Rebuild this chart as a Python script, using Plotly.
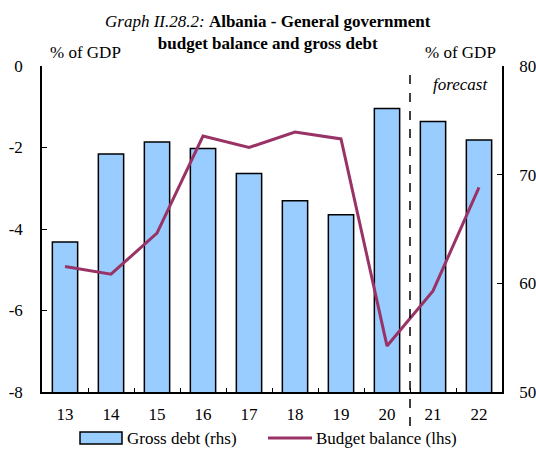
import plotly.graph_objects as go

years = ["13", "14", "15", "16", "17", "18", "19", "20", "21", "22"]
gross_debt = [63.8, 71.9, 73.0, 72.4, 70.1, 67.6, 66.3, 76.1, 74.9, 73.2]
budget_balance = [-4.92, -5.11, -4.10, -1.72, -2.0, -1.62, -1.79, -6.87, -5.52, -2.98]
left_ticks = [0, -2, -4, -6, -8]
right_ticks = [50, 60, 70, 80]

FONT = "Liberation Serif"
FS = 17
LINE_COLOR = "#993366"
BAR_COLOR = "#99CCFF"

# plot area in pixels
L, R, T, B = 42, 502, 66, 392
W, H = R - L, B - T


def px(x):
    return (x - L) / W


def py(y):
    return (B - y) / H


fig = go.Figure()
fig.add_trace(go.Bar(
    x=years, y=gross_debt, name="Gross debt (rhs)", yaxis="y",
    marker=dict(color=BAR_COLOR, line=dict(color="black", width=1.5)),
    width=0.55, showlegend=False,
))
fig.add_trace(go.Scatter(
    x=years, y=budget_balance, name="Budget balance (lhs)", yaxis="y2",
    mode="lines", line=dict(color=LINE_COLOR, width=3), showlegend=False,
))

fig.update_layout(
    width=536, height=453,
    margin=dict(l=L, r=536 - R, t=T, b=453 - B, autoexpand=False),
    paper_bgcolor="white", plot_bgcolor="white",
    font=dict(family=FONT, size=FS, color="black"),
    xaxis=dict(type="category", tickson="boundaries", ticks="inside", ticklen=4,
               tickcolor="black", showline=True, linecolor="black", linewidth=1.5,
               showgrid=False, range=[-0.5, 9.5], tickfont=dict(size=FS),
               ticklabelstandoff=6),
    yaxis=dict(side="right", range=[50, 80], tickvals=right_ticks,
               ticktext=[str(v) for v in right_ticks], ticks="inside",
               ticklen=5, tickcolor="black", showline=True, linecolor="black", linewidth=1.5,
               showgrid=False, zeroline=False, tickfont=dict(size=FS),
               ticklabelstandoff=12),
    yaxis2=dict(side="left", overlaying="y", range=[-8, 0], tickvals=left_ticks,
                ticktext=[str(v) for v in left_ticks],
                ticks="inside", ticklen=5, tickcolor="black", showline=True,
                linecolor="black", linewidth=1.5, showgrid=False, zeroline=False,
                tickfont=dict(size=FS), ticklabelstandoff=14),
)

# forecast separator
fig.add_shape(type="line", xref="x", yref="paper", x0=7.5, x1=7.5, y0=py(426), y1=py(75),
              line=dict(color="black", width=1.5, dash="dash"))

# title
fig.add_annotation(xref="paper", yref="paper", x=px(268), y=py(10),
                   text="<i>Graph II.28.2:</i> <b>Albania - General government</b><br><b>budget balance and gross debt</b>",
                   showarrow=False, font=dict(family=FONT, size=FS), align="center",
                   xanchor="center", yanchor="top")
fig.add_annotation(xref="paper", yref="paper", x=px(48), y=py(52),
                   text="% of GDP", showarrow=False, font=dict(family=FONT, size=FS),
                   xanchor="left", yanchor="middle")
fig.add_annotation(xref="paper", yref="paper", x=px(498), y=py(52),
                   text="% of GDP", showarrow=False, font=dict(family=FONT, size=FS),
                   xanchor="right", yanchor="middle")
fig.add_annotation(xref="paper", yref="paper", x=px(490), y=py(84),
                   text="<i>forecast</i>", showarrow=False, font=dict(family=FONT, size=FS),
                   xanchor="right", yanchor="middle")

# legend (drawn)
fig.add_shape(type="rect", xref="paper", yref="paper", x0=px(80), x1=px(122),
              y0=py(444), y1=py(432), fillcolor=BAR_COLOR, line=dict(color="black", width=1.5))
fig.add_annotation(xref="paper", yref="paper", x=px(125), y=py(438),
                   text="Gross debt (rhs)", showarrow=False, font=dict(family=FONT, size=FS),
                   xanchor="left", yanchor="middle")
fig.add_shape(type="line", xref="paper", yref="paper", x0=px(268), x1=px(312),
              y0=py(438), y1=py(438), line=dict(color=LINE_COLOR, width=3))
fig.add_annotation(xref="paper", yref="paper", x=px(314), y=py(438),
                   text="Budget balance (lhs)", showarrow=False, font=dict(family=FONT, size=FS),
                   xanchor="left", yanchor="middle")

fig.write_html("out.html")
